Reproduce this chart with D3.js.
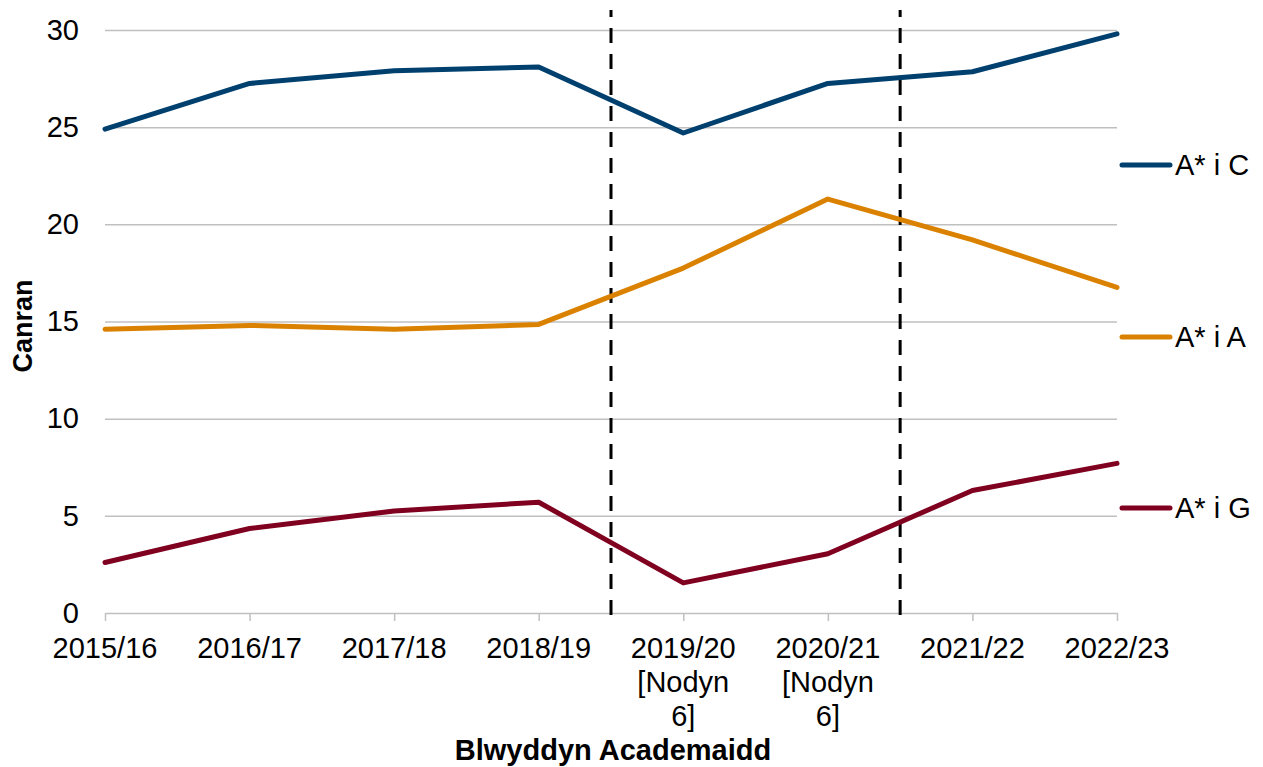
<!DOCTYPE html>
<html>
<head>
<meta charset="utf-8">
<script src="https://cdn.jsdelivr.net/npm/d3@7"></script>
<style>
    body { margin: 0; background: #fff; }
    svg { display: block; font-family: "Liberation Sans", Arial, sans-serif; }
</style>
</head>
<body>
<svg id="chart" width="1263" height="767"></svg>
<script>
    var years = ["2015/16", "2016/17", "2017/18", "2018/19", "2019/20", "2020/21", "2021/22", "2022/23"];
    var yearLabels = [["2015/16"], ["2016/17"], ["2017/18"], ["2018/19"],
        ["2019/20", "[Nodyn", "6]"], ["2020/21", "[Nodyn", "6]"], ["2021/22"], ["2022/23"]];
    var seriesNames = ["A* i C", "A* i A", "A* i G"];
    var valuesC = [24.9, 27.25, 27.9, 28.1, 24.7, 27.25, 27.85, 29.8];
    var valuesA = [14.6, 14.8, 14.6, 14.85, 17.75, 21.3, 19.2, 16.75];
    var valuesG = [2.6, 4.35, 5.25, 5.7, 1.55, 3.05, 6.3, 7.7];
    var yTicks = [0, 5, 10, 15, 20, 25, 30];
    // dashed separators sit between these year pairs
    var breaks = [[3, 4], [5, 6]];

    (function () {
        'use strict';

        var colours = ["#00406f", "#da8200", "#800020"];
        var series = [valuesC, valuesA, valuesG];

        var svg = d3.select("#chart");
        var plotLeft = 105, plotRight = 1117, plotTop = 30, plotBottom = 613;

        var x = d3.scalePoint().domain(years).range([plotLeft, plotRight]);
        var y = d3.scaleLinear().domain([0, 30]).range([plotBottom, plotTop]);

        // gridlines + y labels
        var yAxis = svg.append("g")
            .attr("transform", "translate(" + plotLeft + ",0)")
            .call(d3.axisLeft(y).tickValues(yTicks).tickSize(-(plotRight - plotLeft)).tickPadding(26));
        yAxis.select(".domain").remove();
        yAxis.selectAll(".tick line")
            .attr("stroke", "#c0c0c0")
            .attr("stroke-width", 1.5)
            .attr("opacity", function (d) { return d === 0 ? 0 : 1; });
        yAxis.selectAll(".tick text")
            .attr("font-size", "29px")
            .attr("fill", "#000")
            .attr("font-family", "Liberation Sans, Arial, sans-serif");

        // x axis
        var xAxis = svg.append("g")
            .attr("transform", "translate(0," + plotBottom + ")")
            .call(d3.axisBottom(x).tickSize(8).tickSizeOuter(0).tickFormat(""));
        xAxis.select(".domain").attr("stroke", "#c0c0c0").attr("stroke-width", 1.5);
        xAxis.selectAll(".tick line").attr("stroke", "#c0c0c0").attr("stroke-width", 1.5);

        var xLabels = svg.append("g");
        years.forEach(function (yr, i) {
            var t = xLabels.append("text")
                .attr("text-anchor", "middle")
                .attr("font-size", "29px")
                .attr("fill", "#000");
            yearLabels[i].forEach(function (line, j) {
                t.append("tspan")
                    .attr("x", x(yr))
                    .attr("y", 658 + j * 34)
                    .text(line);
            });
        });

        // dashed separators
        breaks.forEach(function (b) {
            var bx = (x(years[b[0]]) + x(years[b[1]])) / 2;
            svg.append("line")
                .attr("x1", bx).attr("x2", bx)
                .attr("y1", 10).attr("y2", 616)
                .attr("stroke", "#000")
                .attr("stroke-width", 3)
                .attr("stroke-dasharray", "15,11")
                .attr("stroke-dashoffset", 8);
        });

        // series lines
        var line = d3.line()
            .x(function (d, i) { return x(years[i]); })
            .y(function (d) { return y(d); });

        series.forEach(function (vals, k) {
            svg.append("path")
                .datum(vals)
                .attr("d", line)
                .attr("fill", "none")
                .attr("stroke", colours[k])
                .attr("stroke-width", 5)
                .attr("stroke-linecap", "round")
                .attr("stroke-linejoin", "round");
        });

        // legend
        var legendY = [165, 337, 508];
        seriesNames.forEach(function (name, k) {
            var g = svg.append("g").attr("transform", "translate(1122," + legendY[k] + ")");
            g.append("line")
                .attr("x1", 0).attr("x2", 48)
                .attr("stroke", colours[k])
                .attr("stroke-width", 5)
                .attr("stroke-linecap", "round");
            g.append("text")
                .attr("x", 53)
                .attr("y", 10)
                .attr("font-size", "29px")
                .attr("fill", "#000")
                .text(name);
        });

        // axis titles
        svg.append("text")
            .attr("x", (plotLeft + plotRight) / 2 + 2)
            .attr("y", 760)
            .attr("text-anchor", "middle")
            .attr("font-size", "29px")
            .attr("font-weight", "bold")
            .text("Blwyddyn Academaidd");

        svg.append("text")
            .attr("transform", "translate(32,326) rotate(-90)")
            .attr("text-anchor", "middle")
            .attr("font-size", "27px")
            .attr("font-weight", "bold")
            .text("Canran");
    })();
</script>
</body>
</html>
